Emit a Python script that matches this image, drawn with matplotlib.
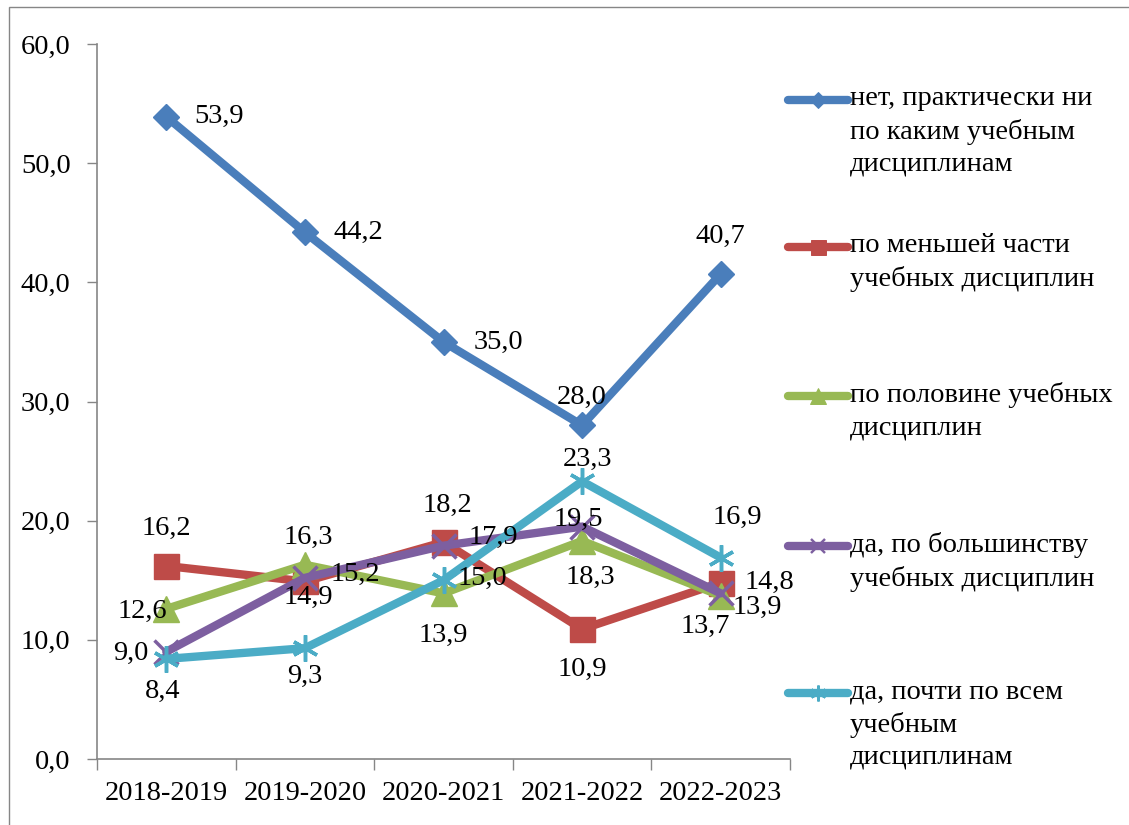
import matplotlib
matplotlib.use("Agg")
import matplotlib.pyplot as plt
from matplotlib.lines import Line2D
from matplotlib.patches import Rectangle
from matplotlib.ticker import FixedLocator, FuncFormatter, NullFormatter

plt.rcParams['font.family'] = ['Liberation Serif', 'DejaVu Serif']

categories = ["2018-2019", "2019-2020", "2020-2021", "2021-2022", "2022-2023"]
series_names = [
    "нет, практически ни\nпо каким учебным\nдисциплинам",
    "по меньшей части\nучебных дисциплин",
    "по половине учебных\nдисциплин",
    "да, по большинству\nучебных дисциплин",
    "да, почти по всем\nучебным\nдисциплинам",
]
net_values = [53.9, 44.2, 35.0, 28.0, 40.7]
menshei_values = [16.2, 14.9, 18.2, 10.9, 14.8]
polovine_values = [12.6, 16.3, 13.9, 18.3, 13.7]
bolshinstvu_values = [9.0, 15.2, 17.9, 19.5, 13.9]
pochti_values = [8.4, 9.3, 15.0, 23.3, 16.9]
all_values = [net_values, menshei_values, polovine_values, bolshinstvu_values, pochti_values]

colors = ["#4A7EBB", "#BE4B48", "#98B954", "#7D5FA0", "#4BACC6"]
markers = ["D", "s", "^", "x", (6, 2, 0)]
msizes = [13.5, 18, 19, 17, 19]

# label offsets in pixels (dx, dy), +dy = up
label_offsets = [
    [(53, 0), (53, 0), (55, 0), (0, 28), (0, 38)],
    [(0, 38), (3, -16), (4, 37), (0, -40), (49, 0)],
    [(-24, -3), (3, 27), (0, -42), (8, -36), (-15, -31)],
    [(-35, -2), (50, 3), (50, 8), (-4, 7), (37, -14)],
    [(-4, -33), (0, -28), (39, 2), (5, 22), (17, 40)],
]

W, H, DPI = 1129, 825, 100
fig = plt.figure(figsize=(W / DPI, H / DPI), dpi=DPI)
ax = fig.add_axes([97 / W, 1 - 759 / H, (790 - 97) / W, (759 - 44) / H])

x = list(range(len(categories)))
FS = 20.5
for vals, c, m, ms in zip(all_values, colors, markers, msizes):
    mew = 2.5 if m in ("x",) or isinstance(m, tuple) else 1
    ax.plot(x, vals, color=c, lw=6, marker=m, markersize=ms,
            markeredgecolor=c, markerfacecolor=c, markeredgewidth=mew,
            solid_capstyle='round', solid_joinstyle='miter', clip_on=False, zorder=3)
for vals, offs in zip(all_values, label_offsets):
    for xi, v, (dx, dy) in zip(x, vals, offs):
        ax.annotate(f"{v:.1f}".replace(".", ","), (xi, v),
                    xytext=(dx * 72 / DPI, dy * 72 / DPI), textcoords='offset points',
                    ha='center', va='center', fontsize=FS, color='black', zorder=5)

ax.set_xlim(-0.5, len(categories) - 0.5)
ax.set_ylim(0, 60)
ax.xaxis.set_major_locator(FixedLocator([i - 0.5 for i in range(len(categories) + 1)]))
ax.xaxis.set_major_formatter(NullFormatter())
ax.xaxis.set_minor_locator(FixedLocator(x))
ax.set_xticklabels(categories, minor=True)
ax.tick_params(axis='x', which='major', direction='out', length=8, color='#868686', width=1)
ax.tick_params(axis='x', which='minor', length=0, pad=16, labelsize=FS)
ax.set_yticks(range(0, 61, 10))
ax.yaxis.set_major_formatter(FuncFormatter(lambda v, p: f"{v:.1f}".replace(".", ",")))
ax.tick_params(axis='y', direction='out', length=7, color='#868686', width=1, labelsize=FS, pad=12)
for s in ['top', 'right']:
    ax.spines[s].set_visible(False)
for s in ['left', 'bottom']:
    ax.spines[s].set_color('#868686')
    ax.spines[s].set_linewidth(1.2)

# legend drawn manually
first_line_y = [100, 247, 396, 546, 693]
for name, c, m, ms, yy in zip(series_names, colors, markers, msizes, first_line_y):
    yf = 1 - yy / H
    mew = 2.5 if m in ("x",) or isinstance(m, tuple) else 1
    fig.add_artist(Line2D([788 / W, 848 / W], [yf, yf], color=c, lw=6,
                          solid_capstyle='round', transform=fig.transFigure))
    fig.add_artist(Line2D([818 / W], [yf], color=c, marker=m, markersize=ms * 0.6,
                          markeredgewidth=mew * 0.7, markerfacecolor=c, markeredgecolor=c,
                          transform=fig.transFigure))
    fig.text(850 / W, 1 - (yy - 14) / H, name, ha='left', va='top', fontsize=FS,
             linespacing=1.38, transform=fig.transFigure)

fig.add_artist(Rectangle((9 / W, -0.01), 1.02, 1 - 7 / H + 0.01, transform=fig.transFigure,
                         fill=False, edgecolor='#868686', lw=1))

fig.savefig("out.png", dpi=DPI)
